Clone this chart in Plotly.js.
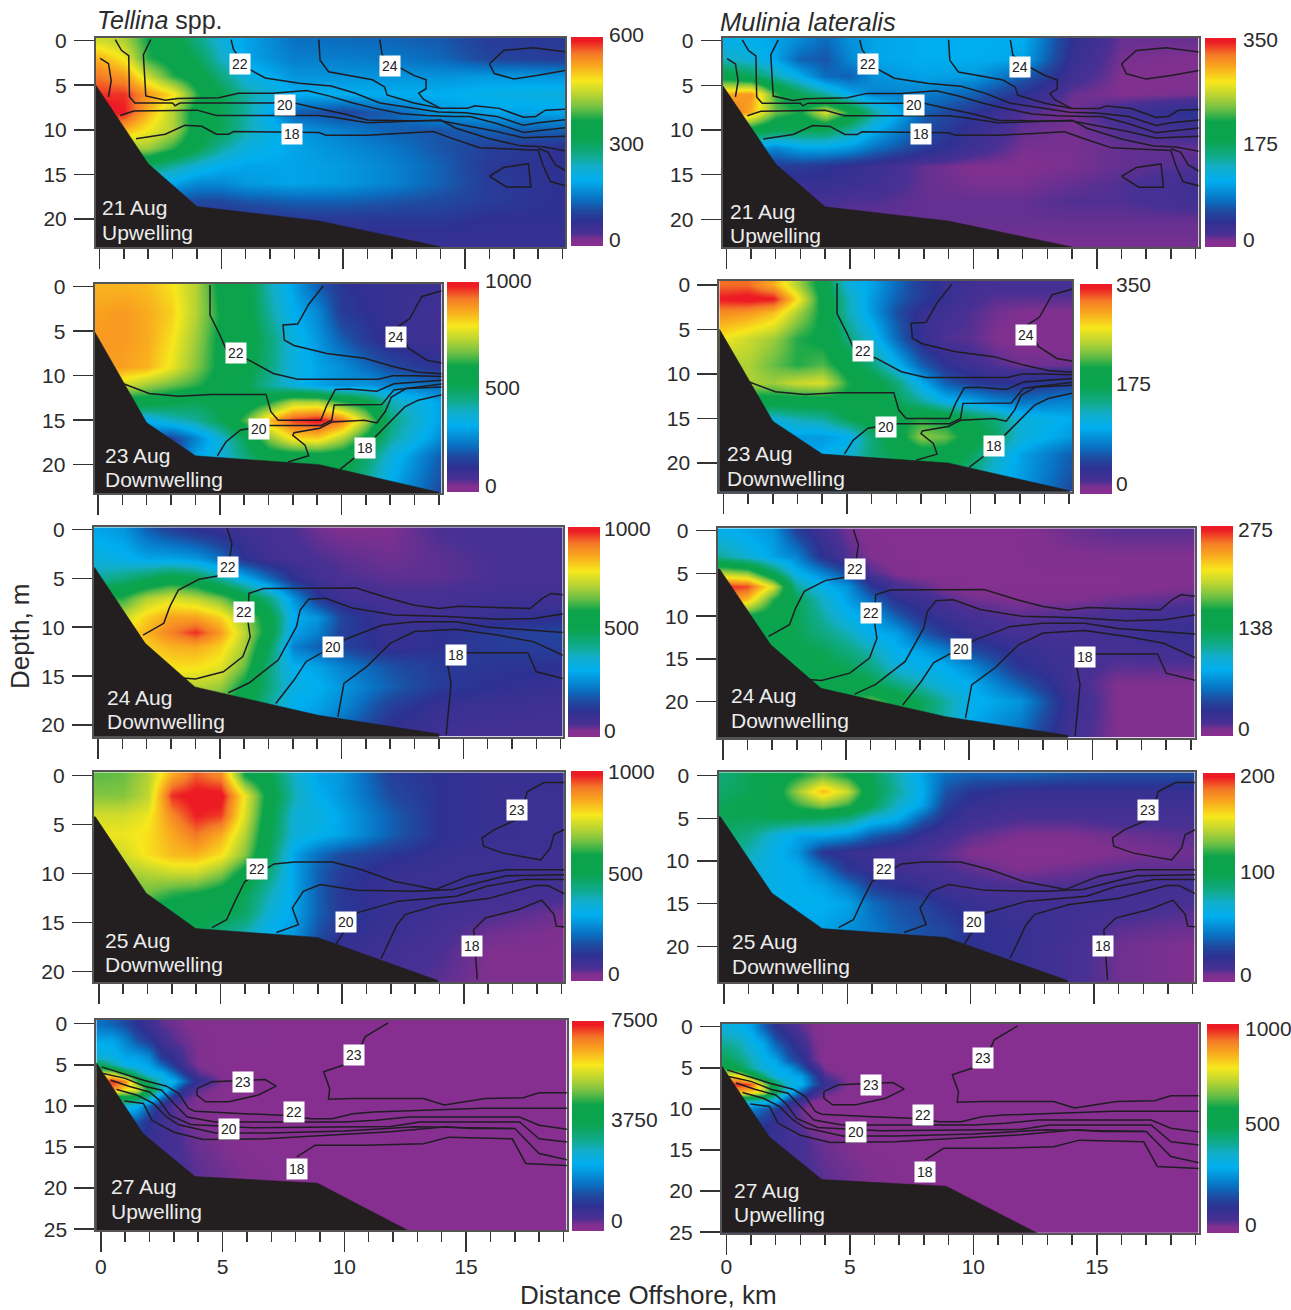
<!DOCTYPE html>
<html>
<head>
<meta charset="utf-8">
<script src="https://cdn.plot.ly/plotly-3.0.1.min.js"></script>
<style>html,body{margin:0;padding:0;background:#fff}</style>
</head>
<body>
<div id="chart" style="width:1291px;height:1310px"></div>
<script>
const xStd = [0,1,2,3,4,5,6,8,10,12,14,16,19];
const dStd = [0,2,4,6,8,10,12,14,16,18,20,23];
const zTellina21 = [
[450,430,360,330,270,215,180,135,130,125,115,85,80],
[510,470,370,335,300,230,180,145,145,140,125,95,85],
[550,530,445,370,330,270,210,165,165,165,165,170,165],
[580,580,530,480,370,310,250,190,190,190,190,200,210],
[600,590,510,430,330,300,250,120,95,120,170,180,180],
[540,510,470,430,330,300,240,170,145,120,110,120,120],
[420,420,420,370,310,250,210,180,160,140,110,90,70],
[300,300,290,250,215,190,180,180,170,150,120,80,70],
[180,180,180,180,155,155,170,180,170,150,120,85,70],
[120,120,120,110,100,100,110,120,120,110,100,85,70],
[60,60,60,60,70,70,70,80,80,80,80,70,70],
[60,60,60,60,60,60,60,60,60,60,60,60,60]];
const zMulinia21 = [
[115,115,105,90,75,95,105,110,110,110,40,15,15],
[135,125,105,70,65,90,105,110,110,105,35,12,10],
[190,175,140,110,75,70,95,105,100,70,28,10,10],
[300,310,220,175,145,110,88,85,70,42,15,10,12],
[330,300,230,210,265,210,145,70,45,20,12,28,45],
[210,195,175,175,175,145,110,62,35,16,12,20,28],
[105,105,88,105,105,98,78,50,28,12,12,16,16],
[35,35,50,50,45,38,32,16,10,10,12,16,20],
[28,28,35,35,35,32,28,16,12,12,16,20,28],
[28,28,25,25,25,20,20,16,16,16,20,20,28],
[16,16,16,16,16,16,16,16,16,16,16,16,16],
[12,12,12,12,12,12,12,12,12,12,12,12,12]];

const x23 = [0,1,2,3,4,5,6,7,8,9,10,11,12,14];
const dT23 = [0,3,6,9,11,13,15,17,19,23];
const zTellina23 = [
[850,850,840,800,720,580,550,400,300,200,130,110,100,90],
[870,880,860,820,720,600,560,420,320,260,140,120,100,80],
[880,880,860,800,700,580,560,460,350,280,200,140,100,80],
[880,870,850,780,680,580,550,450,350,300,270,220,170,120],
[820,750,700,660,620,560,520,420,350,300,270,280,250,220],
[600,550,550,520,500,520,530,600,720,720,620,550,400,300],
[400,350,320,380,420,500,640,840,960,1000,920,720,450,300],
[300,250,200,150,250,360,500,680,800,820,720,580,420,270],
[250,250,200,120,300,350,450,550,550,560,550,480,350,200],
[250,250,200,150,300,350,400,500,500,500,500,400,300,170]];
const dM23 = [0,1.5,3,6,9,11,13,15,17,19,23];
const zMulinia23 = [
[325,325,300,250,195,125,105,75,50,35,28,25,25,25],
[345,350,345,280,200,140,100,70,50,35,25,18,18,18],
[315,310,295,250,205,140,100,62,35,28,20,14,10,10],
[275,260,245,215,205,160,125,75,35,20,18,10,8,8],
[250,250,230,215,225,195,160,115,70,42,28,20,14,14],
[250,250,245,260,265,215,195,160,110,70,52,42,42,52],
[195,195,195,195,195,200,195,175,145,115,105,88,78,88],
[140,125,125,140,145,175,195,205,215,205,180,160,125,110],
[110,105,105,100,100,110,160,195,240,230,195,170,125,100],
[105,105,100,100,110,125,160,180,195,195,175,135,105,70],
[100,100,100,100,105,110,140,175,175,160,140,115,100,60]];

const xMid = [0,1,2,3,4,5,6,7,8,9,10,12,14,16,19];
const dT24 = [0,3,5,7,9,10.5,12,14,16,18,21];
const zTellina24 = [
[300,280,200,150,120,100,80,70,60,40,30,30,60,70,70],
[350,330,300,300,280,220,120,80,70,60,50,40,50,60,70],
[420,450,500,550,520,420,320,220,120,80,60,50,50,60,70],
[600,620,720,760,730,670,560,450,280,140,80,70,70,80,80],
[700,740,820,870,870,820,700,550,320,280,160,80,80,100,120],
[780,800,850,910,970,880,730,560,300,250,150,100,120,140,160],
[750,780,820,850,860,820,710,500,250,200,160,100,120,140,150],
[700,750,780,800,800,770,660,450,320,300,250,180,140,130,120],
[650,700,720,740,720,700,580,450,340,320,280,200,140,120,100],
[600,650,680,700,680,620,550,420,320,300,260,150,100,90,80],
[500,550,600,600,600,550,500,400,300,250,200,100,80,70,70]];
const dM24 = [0,3,5,6.5,8,10,12,14,16,18,20,24];
const zMulinia24 = [
[90,82,77,41,22,11,6,6,6,6,6,6,11,14,14],
[115,99,82,69,33,16,8,6,6,6,6,6,8,8,8],
[200,190,140,91,72,47,16,8,6,6,6,6,6,6,8],
[268,262,210,115,91,77,38,19,14,8,6,6,6,6,8],
[250,230,170,138,105,82,60,33,25,16,11,8,8,11,14],
[165,160,151,138,115,91,82,55,36,25,19,14,16,19,22],
[151,151,143,138,124,110,88,82,55,38,28,19,19,22,28],
[138,138,138,143,138,124,110,88,82,69,47,28,22,19,22],
[138,138,138,143,143,138,124,99,91,88,74,36,22,14,14],
[138,138,138,151,151,154,143,124,110,94,88,55,22,8,8],
[138,138,138,151,165,170,182,160,138,115,91,77,28,8,8],
[138,138,138,138,151,165,170,151,138,110,82,60,22,8,8]];

const dT25 = [0,2,4,6,8,10,12,14,16,18,21];
const zTellina25 = [
[650,660,720,860,940,900,600,520,380,300,280,150,120,100,100],
[680,680,730,970,1000,1000,780,560,400,320,280,170,120,100,90],
[750,750,780,900,980,960,760,540,360,350,300,200,120,100,90],
[780,780,800,860,920,860,720,520,360,330,300,200,120,100,90],
[720,750,800,840,850,800,680,500,300,220,170,130,100,90,80],
[680,700,720,740,740,680,560,450,300,200,140,100,90,90,80],
[650,650,660,620,600,560,500,400,300,200,130,100,90,80,70],
[600,580,560,550,550,520,480,360,300,200,140,100,80,60,40],
[500,500,500,500,500,450,400,320,280,180,120,90,70,40,30],
[450,450,450,450,450,400,350,300,250,150,100,80,60,30,30],
[400,400,400,400,400,350,300,250,200,120,90,70,50,30,30]];
const dM25 = [0,1.8,3.5,5,7,9,11,13,15,18,20,24];
const zMulinia25 = [
[92,100,110,120,132,120,100,80,60,44,40,40,36,34,34],
[96,100,110,140,168,148,104,84,64,36,26,20,20,20,20],
[100,104,110,124,136,124,100,76,60,30,20,16,16,16,16],
[100,100,100,100,96,90,72,64,40,24,16,12,12,14,14],
[96,88,72,60,60,54,40,32,20,14,10,6,6,8,10],
[90,80,66,56,26,20,16,14,12,10,6,4,4,6,8],
[84,72,66,64,48,26,20,16,14,12,10,6,8,10,10],
[80,72,66,64,60,48,30,24,20,16,14,12,12,14,16],
[76,68,66,64,64,60,44,36,32,24,20,16,16,16,12],
[66,60,60,60,60,54,48,40,36,32,24,20,16,10,8],
[60,56,56,56,54,50,44,40,36,32,24,20,14,8,6],
[60,56,56,56,54,50,44,40,36,32,24,20,14,8,6]];

const x27 = [0,0.5,1,1.5,2,2.5,3,3.5,4,5,6,8,19];
const d27 = [0,2,4,5,6,7,8,9,10,12,14,18,25];
const zTellina27 = [
[1650,1500,1275,900,600,375,300,225,150,150,150,75,75],
[2250,2250,1875,1350,1050,600,375,300,225,150,150,75,75],
[2700,2550,2250,2250,1950,1050,750,375,225,150,75,75,75],
[3750,3150,2475,2400,2250,1650,975,450,225,150,75,75,75],
[5625,5400,4125,3150,2475,2400,1650,900,375,150,75,75,75],
[7125,7275,6750,4650,3600,2700,2400,1500,750,225,75,75,75],
[6750,6750,6000,5850,4125,3000,1650,750,375,150,75,75,75],
[3750,3750,4125,3750,3000,1650,750,375,225,150,75,75,75],
[3000,3000,2700,2400,1500,750,375,300,225,150,75,75,75],
[1500,1500,1500,1350,900,600,450,300,225,150,75,75,75],
[1125,1125,1050,975,750,600,525,375,300,225,150,75,75],
[750,750,750,750,750,600,525,450,375,300,225,110,75],
[375,375,375,375,375,300,300,225,225,150,110,75,75]];
const zMulinia27 = [
[350,330,300,200,120,80,50,30,20,10,10,10,10],
[420,400,340,300,200,140,80,40,20,10,10,10,10],
[500,450,400,330,300,200,140,50,20,10,10,10,10],
[600,520,420,350,320,300,200,100,30,10,10,10,10],
[800,800,620,450,340,320,300,180,60,20,10,10,10],
[950,980,950,700,500,350,330,200,100,20,10,10,10],
[800,850,820,750,500,350,200,100,50,20,10,10,10],
[450,400,380,350,300,150,80,30,20,10,10,10,10],
[300,280,250,200,140,80,40,20,20,10,10,10,10],
[180,170,150,130,100,70,50,30,20,10,10,10,10],
[150,140,130,120,100,80,70,50,40,30,20,10,10],
[100,100,100,100,100,80,70,60,50,40,30,15,10],
[50,50,50,50,50,40,40,30,30,20,15,10,10]];

// ---------- seabed outlines [km, m] ----------
const bed21 = [[-1,5],[-0.15,5],[2,13.8],[4,18.6],[6.5,19.4],[9,20.2],[14,23.1],[14.2,30],[-1,30]];
const bed23 = [[-1,5],[-0.15,5],[2,15.3],[4,19],[9.1,20],[14,23.1],[14.2,30],[-1,30]];
const bed24 = [[-1,3.9],[-0.14,3.9],[1.94,11.65],[3.98,16.1],[9.05,19],[14,20.9],[14.2,30],[-1,30]];
const bed25 = [[-1,4.2],[-0.14,4.2],[1.95,12],[3.98,15.6],[8.98,16.5],[13.93,20.9],[14.2,30],[-1,30]];
const bed27 = [[-1,4.8],[-0.17,4.8],[1.74,13.4],[3.87,18.6],[8.9,19.4],[12.65,25.2],[13,30],[-1,30]];

// ---------- isotherms [km, m] ----------
const iso21 = [
[[0.03,2],[0.37,2.6],[0.48,4.5],[0.37,6.3]],
[[0.65,-0.1],[0.9,1.1],[1.2,1.7],[1.23,6.3],[1.45,7],[3,7],[3.1,7.3],[3.3,7],[7,7],[8,7],[8.8,7.5],[10,8.2],[11,8.9],[12.5,9],[14,9],[15,9.5],[16.3,10.2],[17.4,10.9],[19.2,10.7]],
[[0.85,8.4],[1.4,7.9],[4,7.8],[4.8,8.4],[9,8.4],[9.6,8.6],[11,9.2],[14,8.9],[14.6,9.8],[16,11],[17.3,11.8],[18.2,11.9],[19.2,12.4]],
[[1.5,11],[2.7,10.5],[3.5,9.5],[4.2,9.6],[4.8,10.5],[5.3,10.5],[5.5,10.2],[9,10.3],[9.3,10.6],[11,10.6],[13.7,10.2],[14.4,10.9],[15.6,12],[17,12.2],[18,12.3],[18.2,14],[18.5,15.8],[19.2,16.3]],
[[18,12.1],[18.4,12.5],[18.7,13.9],[19.2,14.7]],
[[9,-0.1],[9.05,2.2],[9.4,3.5],[10.5,4.1],[11.2,4.4],[11.7,5.2],[11.8,6.1],[12.9,7],[14,7.6],[15.1,7.6],[15.4,7.3],[16.4,7.6],[17.4,8.6],[17.9,8.5],[18.3,7.8],[19.2,7.7]],
[[11.5,-0.1],[11.6,1.6],[12.3,3],[12.9,3.9],[13.4,4.4],[13.4,5.4],[13.1,5.9],[13.3,6.6],[14,7.6]],
[[5.4,-0.1],[5.5,1],[6,3],[6.8,4.2],[8.2,4.8],[9.5,5.1],[10.5,5.9],[11.5,7],[12.7,7.5],[13.9,8],[15,8.1],[16.3,8.5],[17.4,9.5],[18,9.2],[19.2,8.85]],
[[2.1,-0.1],[1.8,1.6],[1.9,6.2],[2.7,6.7],[3.2,6.5],[4.9,6.4],[5.7,5.9],[7.1,5.9],[8.5,5.6],[9.4,6.2],[10.4,7],[11.3,7.6],[12.4,8.2],[13.4,8.4],[14.5,8.5],[15.2,8.5],[16.3,9.3],[17.4,10.3],[18,10.1],[19.2,9.75]],
[[16,2.6],[16.6,1.1],[17.8,0.8],[19.2,1.3]],
[[19.2,3.3],[18,3.9],[17,4.3],[16.2,3.7],[16,2.6]],
[[16,15.2],[16.6,14.2],[17.6,13.8],[17.7,16.4],[16.7,16.4],[16,15.2]]
];
const lab21 = [[5.75,2.6,'22'],[11.9,2.9,'24'],[7.6,7.2,'20'],[7.9,10.5,'18']];

const iso23 = [
[[4.6,-0.2],[4.6,3.2],[5,5.4],[5.3,7.3],[6.2,8.25],[7.2,9.75],[8.2,10.4],[11.5,10.4],[12.1,10],[13,10],[14.2,10.1]],
[[9.25,-0.1],[8.65,2],[8.2,4.2],[7.6,4.3],[7.65,6],[8.05,6.6],[9.4,7.5],[10.95,8.05],[12.15,9],[13.15,9.6],[14.2,9.8]],
[[14.2,0.4],[13.3,1.1],[12.8,3.6],[12.3,4.5],[12.75,6.9],[13.5,8.25],[14.2,8.6]],
[[1.05,10.9],[2.1,12],[3.3,12.3],[4.65,12.1],[6.9,12.1],[7.1,14.05],[7.4,15],[9.15,15],[9.4,13.3],[9.75,11.55],[10.3,11.5],[11.45,11.75],[12.15,10.9],[14.2,10.5]],
[[4.9,19],[5.25,17.45],[5.85,16.1],[7.05,15.6],[9.15,15.6],[9.6,15],[9.7,13.3],[11.65,13.25],[12.15,11.6],[14.2,10.9]],
[[7.8,19.7],[8.65,19],[8.5,17.8],[8,16.7],[8.05,16.4],[9.1,15.9],[9.6,15.2],[10.95,15],[11.45,15.3],[11.8,14],[12.05,12.4],[12.65,11.45],[14.2,11.25]],
[[9.95,20.5],[10.6,19.1],[11.45,16.7],[12.05,15],[12.6,13.5],[13.15,12.75],[14.2,12.1]]
];
const lab23 = [[5.65,7.4,'22'],[12.25,5.65,'24'],[6.6,15.95,'20'],[10.95,18.1,'18']];

const iso24 = [
[[5.3,-0.1],[5.5,1.45],[5.4,3.1],[5.2,4.65],[4.15,5.1],[3.3,6.2],[2.95,7.9],[2.7,9.6],[1.85,10.8]],
[[3.45,15.2],[4,15.3],[5.15,14.55],[5.95,13],[6.25,11],[6.15,9.25],[6.2,6.55],[6.8,6.05],[10.6,6],[11.95,7.05],[13,7.75],[14,8.1],[14.85,7.85],[17.75,8.1],[18.25,7.05],[18.6,6.55],[19.2,6.7]],
[[5.35,16.7],[6.2,15.7],[7.4,13.35],[8.15,9.95],[8.3,8.25],[8.65,7.15],[9.35,7.05],[10.45,8.05],[12.15,8.75],[14.35,8.9],[16.4,9.2],[17.9,9.1],[19.2,8.6]],
[[7.3,17.8],[8.05,15.4],[8.55,13.5],[9.4,12.3],[10.25,11.15],[11.65,9.8],[13,9.45],[14.7,9.45],[16.05,10],[19.2,10.55]],
[[9.85,19.15],[10.1,15.75],[11.05,14],[12,11.65],[13,10.45],[14.7,10.2],[16.4,10.8],[17.9,11.5],[19.2,13]],
[[14.3,21],[14.5,15.7],[14.35,13.7],[14.7,12.6],[17.65,12.6],[18,14.55],[19.2,15.3]]
];
const lab24 = [[5.35,3.9,'22'],[6,8.4,'22'],[9.65,12.05,'20'],[14.7,12.85,'18']];

const iso25 = [
[[4.65,15.5],[5.25,14.7],[5.6,12.8],[6,10.8],[7.2,9],[8.05,8.8],[9.6,8.8],[10.8,9.6],[12.15,10.8],[13.85,11.6],[15.2,10.25],[16.75,9.6],[19.2,9.6]],
[[7.3,16],[8.2,15.2],[7.95,13.5],[8.4,11.8],[9.1,11.1],[10.6,11.7],[13,11.8],[14.55,11.6],[15.55,10.95],[16.75,10.2],[19.2,10.1]],
[[9.75,17.15],[10.6,14],[12.3,12.8],[14.7,12.3],[15.9,11.3],[17.45,10.6],[19.2,10.6]],
[[11.6,18.65],[12.25,15.2],[12.6,14.15],[14,13.15],[16.05,12.5],[17.95,11.2],[18.45,11.2],[19.2,12.15]],
[[15.55,20.8],[15.5,18.9],[15.4,15.7],[15.9,14.5],[17.25,13.65],[18.2,12.7],[18.7,14.15],[18.8,15.35],[19.2,15.45]],
[[19.2,0.7],[18.3,0.7],[17.6,1.65],[17.3,4.35],[16.25,5.5],[15.75,6.35],[15.8,7.2],[16.6,7.9],[18.15,8.6],[18.55,7.4],[18.7,6],[19.2,5.4]]
];
const lab25 = [[6.5,9.5,'22'],[10.15,14.95,'20'],[15.35,17.4,'18'],[17.2,3.5,'23']];

const iso27 = [
[[0.03,5.25],[0.97,6.15],[1.8,6.9],[2.7,7.6],[3.2,8.5],[3.6,10.3],[3.87,10.65],[5.9,10.95],[7.45,11.15],[8.65,11.55],[9.5,11.55],[10.35,10.95],[11.2,10.75],[15.65,10.3],[19.2,10.3]],
[[0.1,6.05],[1,6.65],[1.8,7.6],[2.5,8.1],[3,9.7],[3.55,11.35],[4.7,11.95],[10,11.95],[11.3,11.75],[12.65,11.35],[17.2,11.35],[18,12.35],[19.2,12.85]],
[[0.4,6.85],[1.15,7.6],[2,8.3],[2.4,9.3],[2.85,11.15],[3.7,12.25],[6.25,12.65],[10,12.55],[11.9,12.5],[13.1,11.95],[17.2,11.95],[18,14],[19.2,14.4]],
[[0.65,8],[1.5,8.7],[2.15,9.7],[2.7,11.35],[3.2,12.3],[4.7,13.3],[6.95,13.3],[10,13.05],[12.9,12.55],[17,12.75],[18,15.8],[19.2,16.6]],
[[0.97,9.4],[1.75,9.7],[2.1,11.75],[3,13.2],[4.2,14.1],[6.8,14],[9.15,13.6],[11.9,13.15],[14.2,12.55],[15.15,12.75],[16.9,12.75]],
[[8.05,16.2],[8.8,14.8],[10.85,14.8],[13.25,14.6],[14.3,13.8],[16.9,14],[17.45,17],[19.2,17.25]],
[[11.8,-0.1],[10.85,1.6],[10.5,4],[10,5],[9.15,5.85],[9.4,7.9],[9.35,9.2],[10.35,9.1],[12.05,9.1],[13.25,9.1],[14.1,9.9],[15.8,9.1],[17.35,9],[18,8.4],[19.2,8.4]],
[[3.95,7.9],[4.55,7.05],[6.75,6.8],[7.2,7.6],[6.45,8.7],[5.25,9.5],[4.3,9.5],[3.95,8.7],[3.95,7.9]]
];
const lab27 = [[10.4,3.8,'23'],[5.85,7.05,'23'],[7.95,10.75,'22'],[5.25,12.75,'20'],[8.05,17.7,'18']];

// ---------- panel layout, in page pixels ----------
const W = 1291, H = 1310;
const panels = [
 {x:xStd,d:dStd,z:zTellina21,zmax:600,iso:iso21,lab:lab21,bed:bed21,f:1,box:[96,565,38,247],x0:99.5,kx:24.37,y0:40.5,ky:8.93,cb:[570.5,602.5,37,246],tx:607,ticks:[['600',35],['300',144],['0',239]],date:['21 Aug','Upwelling',99.5,208,232]},
 {x:xStd,d:dStd,z:zMulinia21,zmax:350,iso:iso21,lab:lab21,bed:bed21,f:1,box:[722.6,1198.5,38,247],x0:726.3,kx:24.7,y0:40.7,ky:8.93,cb:[1204.8,1236,37.7,247],tx:1240.5,ticks:[['350',39],['175',143],['0',239]],date:['21 Aug','Upwelling',727.5,211.7,236]},
 {x:x23,d:dT23,z:zTellina23,zmax:1000,iso:iso23,lab:lab23,bed:bed23,f:1,box:[94.6,441.5,284,493],x0:98,kx:24.35,y0:286.7,ky:8.9,cb:[447,479,281.7,491.7],tx:482.6,ticks:[['1000',281],['500',387],['0',485.7]],date:['23 Aug','Downwelling',102.5,455.7,479]},
 {x:x23,d:dM23,z:zMulinia23,zmax:350,iso:iso23,lab:lab23,bed:bed23,f:1,box:[719.3,1072.4,280.7,491.7],x0:723.4,kx:24.7,y0:285,ky:8.9,cb:[1080.3,1111.8,284.3,494],tx:1113.5,ticks:[['350',285],['175',384],['0',483]],date:['23 Aug','Downwelling',725.5,453,478]},
 {x:xMid,d:dT24,z:zTellina24,zmax:1000,iso:iso24,lab:lab24,bed:bed24,f:1,box:[93.8,562.6,527.3,736.7],x0:98,kx:24.35,y0:529.3,ky:9.79,cb:[567.6,600,526.7,736.7],tx:601.7,ticks:[['1000',528],['500',628],['0',730]],date:['24 Aug','Downwelling',105,697.3,721.7]},
 {x:xMid,d:dM24,z:zMulinia24,zmax:275,iso:iso24,lab:lab24,bed:bed24,f:1.145,box:[717.6,1194.8,528.3,737.7],x0:723,kx:24.62,y0:530.7,ky:8.55,cb:[1200.6,1233,526,736],tx:1236.4,ticks:[['275',529],['138',628],['0',728]],date:['24 Aug','Downwelling',729,695,720]},
 {x:xMid,d:dT25,z:zTellina25,zmax:1000,iso:iso25,lab:lab25,bed:bed25,f:1,box:[93.8,564.3,772.3,982.3],x0:98.8,kx:24.34,y0:775.7,ky:9.8,cb:[570.5,602,771,980.7],tx:605.9,ticks:[['1000',771],['500',873.3],['0',973.3]],date:['25 Aug','Downwelling',102.5,940,965]},
 {x:xMid,d:dM25,z:zMulinia25,zmax:200,iso:iso25,lab:lab25,bed:bed25,f:1.149,box:[718.5,1194.8,772.3,982.3],x0:723.9,kx:24.67,y0:775.7,ky:8.53,cb:[1202.7,1235,773.3,982.7],tx:1238.4,ticks:[['200',775],['100',871.7],['0',974]],date:['25 Aug','Downwelling',729.5,941,966]},
 {x:x27,d:d27,z:zTellina27,zmax:7500,iso:iso27,lab:lab27,bed:bed27,f:1,box:[96.3,566.8,1020,1230],x0:100.8,kx:24.35,y0:1023.7,ky:8.22,cb:[571.8,604,1020.7,1230.3],tx:608.8,ticks:[['7500',1019.3],['3750',1119],['0',1220]],date:['27 Aug','Upwelling',108.5,1186.7,1211],xoff:-3},
 {x:x27,d:d27,z:zMulinia27,zmax:1000,iso:iso27,lab:lab27,bed:bed27,f:1,box:[721.8,1198.5,1024,1232.7],x0:726.3,kx:24.7,y0:1026.7,ky:8.22,cb:[1206.8,1239,1024,1233.3],tx:1243.4,ticks:[['1000',1028],['500',1123],['0',1224]],date:['27 Aug','Upwelling',731.5,1190,1214],xoff:-6}
];
const colorScale = [[0,'#8a2f92'],[0.03,'#80308f'],[0.06,'#4a3093'],[0.12,'#2e3192'],[0.17,'#1f4aa0'],[0.22,'#0a6fc0'],[0.315,'#00aeef'],[0.38,'#12aecb'],[0.43,'#10ab8e'],[0.51,'#0ba44f'],[0.6,'#0ba44b'],[0.66,'#6cbf45'],[0.72,'#b5d334'],[0.79,'#f7e81c'],[0.87,'#f9a11f'],[0.92,'#f47a27'],[0.98,'#ed1c24'],[1,'#ed1c24']];
const FONT = '"Liberation Sans", Arial, sans-serif';
const INK = '#2b2b2b';
const px = v => v / W, py = v => 1 - v / H;
const pageText = (text, x, y, size, color, extra) => Object.assign({text, xref:'paper', yref:'paper', x:px(x), y:py(y), xanchor:'left', yanchor:'middle', showarrow:false, font:{family:FONT, size, color}}, extra || {});

const data = [], layout = {width:W, height:H, margin:{l:0,r:0,t:0,b:0,autoexpand:false}, paper_bgcolor:'#fff', plot_bgcolor:'#fff', showlegend:false, annotations:[], font:{family:FONT,color:INK}};

panels.forEach((p, i) => {
  const n = i + 1, xa = 'x' + n, ya = 'y' + n, [L,R,T,B] = p.box;
  data.push({type:'heatmap', x:p.x, y:p.d, z:p.z, xaxis:xa, yaxis:ya, zmin:0, zmax:p.zmax, zsmooth:'best', colorscale:colorScale, hoverinfo:'skip',
    colorbar:{x:px(p.cb[0]), xanchor:'left', y:py(p.cb[2]), yanchor:'top', lenmode:'pixels', len:p.cb[3]-p.cb[2], thicknessmode:'pixels', thickness:p.cb[1]-p.cb[0], xpad:0, ypad:0, outlinewidth:0, ticks:'', showticklabels:false}});
  const lx = [], ly = [];
  p.iso.forEach(line => { line.forEach(q => { lx.push(q[0]); ly.push(q[1]*p.f); }); lx.push(null); ly.push(null); });
  data.push({type:'scatter', mode:'lines', x:lx, y:ly, xaxis:xa, yaxis:ya, line:{color:'#1f1c22', width:1.5}, hoverinfo:'skip'});
  data.push({type:'scatter', mode:'lines', x:p.bed.map(q=>q[0]), y:p.bed.map(q=>q[1]*p.f), xaxis:xa, yaxis:ya, fill:'toself', fillcolor:'#231f20', line:{color:'#231f20', width:0.5}, hoverinfo:'skip'});
  const showX = i >= 8;
  layout['xaxis'+n] = {domain:[px(L),px(R)], anchor:ya, range:[(L-p.x0)/p.kx,(R-p.x0)/p.kx], tick0:0, dtick:5, ticks:'outside', ticklen:20, tickwidth:1.5, tickcolor:'#333',
    minor:{tick0:0, dtick:1, ticks:'outside', ticklen:10, tickwidth:1.5, tickcolor:'#333'},
    showticklabels:showX, ticklabelstandoff:p.xoff||0, tickfont:{family:FONT,size:21,color:INK}, showgrid:false, zeroline:false, showline:true, mirror:true, linecolor:'#555', linewidth:2};
  layout['yaxis'+n] = {domain:[py(B),py(T)], anchor:xa, range:[(B-p.y0)/p.ky,(T-p.y0)/p.ky], tick0:0, dtick:5, ticks:'outside', ticklen:20, tickwidth:1.5, tickcolor:'#333',
    ticklabelstandoff:3, tickfont:{family:FONT,size:21,color:INK}, showgrid:false, zeroline:false, showline:true, mirror:true, linecolor:'#555', linewidth:2};
  p.lab.forEach(q => layout.annotations.push({text:q[2], xref:xa, yref:ya, x:q[0], y:q[1]*p.f, showarrow:false, bgcolor:'#fff', borderpad:2, font:{family:FONT,size:14,color:'#222'}}));
  p.ticks.forEach(t => layout.annotations.push(pageText(t[0], p.tx, t[1], 21, INK)));
  layout.annotations.push(pageText(p.date[0], p.date[2], p.date[3], 21, '#ececec'));
  layout.annotations.push(pageText(p.date[1], p.date[2], p.date[4], 21, '#ececec'));
});
layout.annotations.push(pageText('<i>Tellina</i> spp.', 94.5, 20, 25, INK));
layout.annotations.push(pageText('<i>Mulinia lateralis</i>', 718, 22, 25.5, INK));
layout.annotations.push(pageText('Depth, m', 20, 636, 26, INK, {xanchor:'center', textangle:-90}));
layout.annotations.push(pageText('Distance Offshore, km', 648, 1295, 26, INK, {xanchor:'center'}));

Plotly.newPlot('chart', data, layout, {displayModeBar:false, staticPlot:true});
</script>
</body>
</html>
